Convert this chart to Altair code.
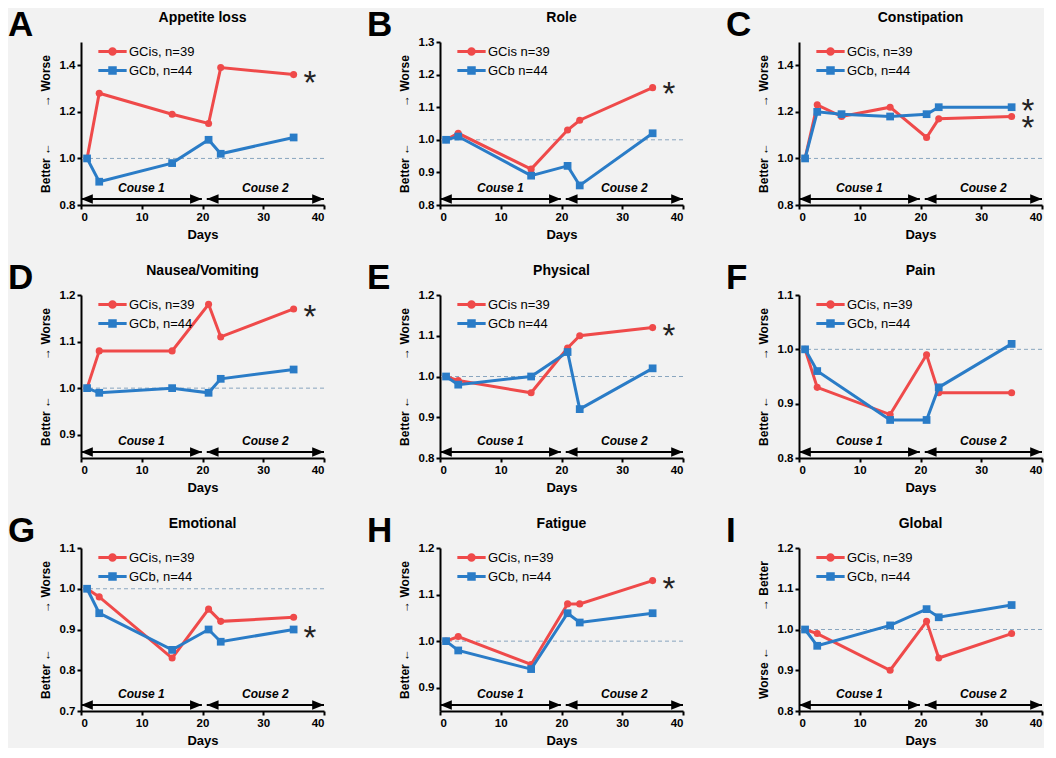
import altair as alt
import pandas as pd

# ---------------- data ----------------
days = [1, 3, 15, 21, 23, 35]
days_constipation = [1, 3, 7, 15, 21, 23, 35]

appetite_gcis = [1.00, 1.28, 1.19, 1.15, 1.39, 1.36]
appetite_gcb = [1.00, 0.90, 0.98, 1.08, 1.02, 1.09]
role_gcis = [1.00, 1.02, 0.91, 1.03, 1.06, 1.16]
role_gcb = [1.00, 1.01, 0.89, 0.92, 0.86, 1.02]
constipation_gcis = [1.00, 1.23, 1.18, 1.22, 1.09, 1.17, 1.18]
constipation_gcb = [1.00, 1.20, 1.19, 1.18, 1.19, 1.22, 1.22]
nausea_gcis = [1.00, 1.08, 1.08, 1.18, 1.11, 1.17]
nausea_gcb = [1.00, 0.99, 1.00, 0.99, 1.02, 1.04]
physical_gcis = [1.00, 0.99, 0.96, 1.07, 1.10, 1.12]
physical_gcb = [1.00, 0.98, 1.00, 1.06, 0.92, 1.02]
pain_gcis = [1.00, 0.93, 0.88, 0.99, 0.92, 0.92]
pain_gcb = [1.00, 0.96, 0.87, 0.87, 0.93, 1.01]
emotional_gcis = [1.00, 0.98, 0.83, 0.95, 0.92, 0.93]
emotional_gcb = [1.00, 0.94, 0.85, 0.90, 0.87, 0.90]
fatigue_gcis = [1.00, 1.01, 0.95, 1.08, 1.08, 1.13]
fatigue_gcb = [1.00, 0.98, 0.94, 1.06, 1.04, 1.06]
global_gcis = [1.00, 0.99, 0.90, 1.02, 0.93, 0.99]
global_gcb = [1.00, 0.96, 1.01, 1.05, 1.03, 1.06]

letters = ["A", "B", "C", "D", "E", "F", "G", "H", "I"]
titles = ["Appetite loss", "Role", "Constipation", "Nausea/Vomiting", "Physical",
          "Pain", "Emotional", "Fatigue", "Global"]
gcis_series = [appetite_gcis, role_gcis, constipation_gcis, nausea_gcis, physical_gcis,
               pain_gcis, emotional_gcis, fatigue_gcis, global_gcis]
gcb_series = [appetite_gcb, role_gcb, constipation_gcb, nausea_gcb, physical_gcb,
              pain_gcb, emotional_gcb, fatigue_gcb, global_gcb]
gcis_labels = ["GCis, n=39", "GCis n=39", "GCis, n=39", "GCis, n=39", "GCis n=39",
               "GCis, n=39", "GCis, n=39", "GCis, n=39", "GCis, n=39"]
gcb_labels = ["GCb, n=44", "GCb n=44", "GCb, n=44", "GCb, n=44", "GCb n=44",
              "GCb, n=44", "GCb, n=44", "GCb, n=44", "GCb, n=44"]
y_domains = [[0.8, 1.5], [0.8, 1.3], [0.8, 1.5], [0.85, 1.2], [0.8, 1.2],
             [0.8, 1.1], [0.7, 1.1], [0.85, 1.2], [0.8, 1.2]]
y_ticks = [[0.8, 1.0, 1.2, 1.4], [0.8, 0.9, 1.0, 1.1, 1.2, 1.3], [0.8, 1.0, 1.2, 1.4],
           [0.9, 1.0, 1.1, 1.2], [0.8, 0.9, 1.0, 1.1, 1.2], [0.8, 0.9, 1.0, 1.1],
           [0.7, 0.8, 0.9, 1.0, 1.1], [0.9, 1.0, 1.1, 1.2], [0.8, 0.9, 1.0, 1.1, 1.2]]
EM = "\u2003"
y_titles = ["Better ←" + EM * 3 + "→ Worse"] * 8 + ["Worse ←" + EM * 3 + "→ Better"]
star_values = [[1.36], [1.165], [1.24, 1.165], [1.17], [1.12], [], [0.90], [1.13], []]
star_day = 37.7
x_ticks = [0, 10, 20, 30, 40]
course_start = [0, 20.7]
course_end = [19.9, 40]
course_labels = ["Couse 1", "Couse 2"]

# ---------------- style ----------------
RED = "#ef4a4a"
BLUE = "#2a7cc7"
FONT = "Liberation Sans"
W, H = 243, 163
CIRCLE_LEG = "M-2,-0.2H2V0.2H-2Z M0.6,0A0.6,0.6,0,1,1,-0.6,0A0.6,0.6,0,1,1,0.6,0Z"
SQUARE_LEG = "M-2,-0.2H2V0.2H-2Z M-0.6,-0.6H0.6V0.6H-0.6Z"
LEFT_HEAD = "M0,0L2,-0.8L2,0.8Z"
RIGHT_HEAD = "M0,0L-2,-0.8L-2,0.8Z"


def panel(i):
    xs = days_constipation if letters[i] == "C" else days
    cis_lab, cb_lab = gcis_labels[i], gcb_labels[i]
    df = pd.DataFrame({
        "day": list(xs) * 2,
        "score": list(gcis_series[i]) + list(gcb_series[i]),
        "group": [cis_lab] * len(xs) + [cb_lab] * len(xs),
    })
    xscale = alt.Scale(domain=[0, 40], nice=False, zero=False)
    yscale = alt.Scale(domain=y_domains[i], nice=False, zero=False)
    xaxis = alt.Axis(values=x_ticks, title="Days", format="d")
    yaxis = alt.Axis(values=y_ticks[i], title=y_titles[i], format=".1f")
    cscale = alt.Scale(domain=[cis_lab, cb_lab], range=[RED, BLUE])

    def X(f):
        return alt.X(f, type="quantitative", scale=xscale, axis=xaxis)

    def Y(f):
        return alt.Y(f, type="quantitative", scale=yscale, axis=yaxis)

    col = alt.Color("group:N", scale=cscale,
                    legend=alt.Legend(orient="none", legendX=24, legendY=2, title=None,
                                      symbolSize=200, labelOffset=9, labelFontSize=13,
                                      labelFont=FONT, labelColor="black", rowPadding=4,
                                      symbolStrokeWidth=0))
    base = alt.Chart(df)

    ref = alt.Chart(pd.DataFrame({"ref": [1.0]})).mark_rule(
        strokeDash=[4, 3], color="#8aa6bf", strokeWidth=1).encode(y=Y("ref"))

    cdf = pd.DataFrame({"start": course_start, "end": course_end, "label": course_labels})
    cbase = alt.Chart(cdf)
    crule = cbase.mark_rule(color="black", strokeWidth=2.2).encode(
        x=X("start"), x2="end:Q", y=alt.value(H - 6))
    lhead = cbase.mark_point(shape=LEFT_HEAD, filled=True, size=140, color="black",
                             opacity=1, strokeWidth=0).encode(x=X("start"), y=alt.value(H - 6))
    rhead = cbase.mark_point(shape=RIGHT_HEAD, filled=True, size=140, color="black",
                             opacity=1, strokeWidth=0).encode(x=X("end"), y=alt.value(H - 6))
    ctext = cbase.transform_calculate(mid="(datum.start + datum.end) / 2").mark_text(
        font=FONT, fontSize=12, fontWeight="bold", fontStyle="italic", color="black",
        baseline="middle").encode(x=X("mid"), y=alt.value(H - 17), text="label:N")

    layers = [ref, crule, lhead, rhead, ctext]
    for lab, shp, sz in [(cis_lab, "circle", 50), (cb_lab, "square", 60)]:
        sub = base.transform_filter(alt.datum.group == lab)
        layers.append(sub.mark_line(strokeWidth=3).encode(x=X("day"), y=Y("score"), color=col))
        layers.append(sub.mark_point(shape=shp, filled=True, size=sz, opacity=1).encode(
            x=X("day"), y=Y("score"), color=col))

    if star_values[i]:
        sdf = pd.DataFrame({"day": [star_day] * len(star_values[i]), "score": star_values[i]})
        layers.append(alt.Chart(sdf).mark_text(text="*", font=FONT, fontSize=33,
                                                color="#222222", baseline="middle", dy=9).encode(
            x=X("day"), y=Y("score")))

    tdf = pd.DataFrame({"letter": [letters[i]], "name": [titles[i]]})
    tbase = alt.Chart(tdf)
    layers.append(tbase.mark_text(font=FONT, fontSize=35, fontWeight="bold",
                                  color="black", align="left",
                                  baseline="alphabetic").encode(
        x=alt.value(-73), y=alt.value(-6), text="letter:N"))
    layers.append(tbase.mark_text(font=FONT, fontSize=14, fontWeight="bold",
                                  color="black", align="center",
                                  baseline="alphabetic").encode(
        x=alt.value(W / 2), y=alt.value(-20), text="name:N"))

    leg = base.transform_filter("false").mark_point(filled=True, opacity=1).encode(
        x=X("day"), y=Y("score"), color=col,
        shape=alt.Shape("group:N", scale=alt.Scale(domain=[cis_lab, cb_lab],
                                                    range=[CIRCLE_LEG, SQUARE_LEG])))
    layers.append(leg)

    return alt.layer(*layers).properties(width=W, height=H)


rows = []
for r in range(3):
    rows.append(alt.hconcat(*[panel(3 * r + c) for c in range(3)], spacing=41)
                .resolve_scale(color="independent", shape="independent", x="independent",
                               y="independent"))

chart = alt.vconcat(*rows, spacing=19).resolve_scale(
    color="independent", shape="independent", x="independent", y="independent"
).properties(padding=0, background="#f2f2f2").configure_view(stroke=None).configure_axis(
    grid=False, domainColor="black", domainWidth=2, tickColor="black", tickWidth=2,
    tickSize=4, labelFont=FONT, labelFontWeight="bold", labelFontSize=11.5,
    labelColor="black", labelPadding=2, titleFont=FONT, titleFontWeight="bold",
    titleColor="black"
).configure_axisY(titleFontSize=12, titlePadding=7).configure_axisX(
    titleFontSize=13, titlePadding=6)

chart.save("out.html", embed_options={"renderer": "svg", "actions": False})
